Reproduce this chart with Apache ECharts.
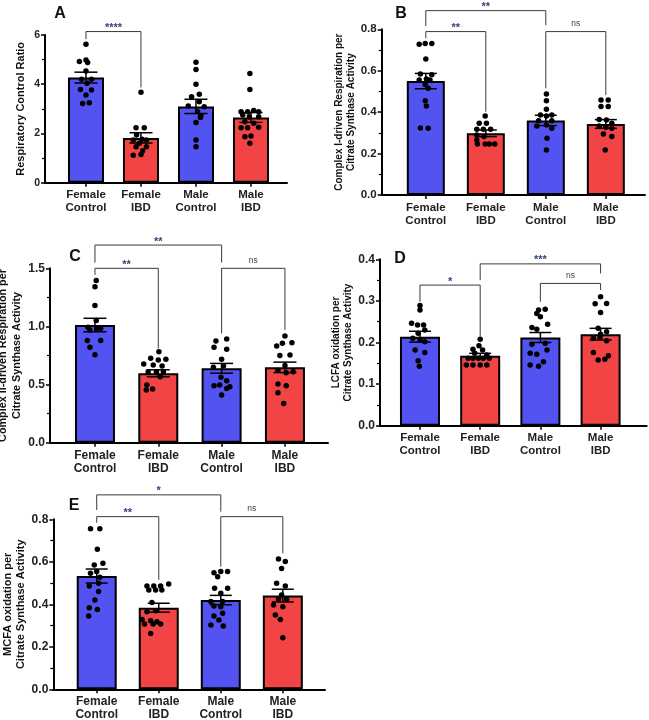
<!DOCTYPE html>
<html>
<head>
<meta charset="utf-8">
<script src="https://cdn.jsdelivr.net/npm/echarts@6/dist/echarts.min.js"></script>
<style>html,body{margin:0;padding:0;background:#fff;}#c{width:649px;height:720px;}</style>
</head>
<body>
<div id="c"></div>
<script>
// ---------- DATA ----------
const categories = ['Female\nControl', 'Female\nIBD', 'Male\nControl', 'Male\nIBD'];

// Panel A: Respiratory Control Ratio
const aMeans = [4.27, 1.82, 3.10, 2.65];
const aSems = [0.22, 0.21, 0.29, 0.20];
const aDots = [
  [5.62, 4.92, 4.98, 4.88, 4.54, 4.2, 4.2, 4.04, 3.79, 3.77, 3.56, 3.22, 3.25],
  [3.67, 2.23, 2.23, 1.94, 1.76, 1.73, 1.73, 1.6, 1.46, 1.46, 1.3, 1.15, 1.12],
  [4.89, 4.6, 4.0, 3.59, 3.49, 3.29, 3.12, 3.09, 2.88, 2.72, 2.65, 2.45, 1.73, 1.46],
  [4.44, 3.79, 2.88, 2.88, 2.93, 2.88, 2.75, 2.68, 2.68, 2.48, 2.41, 2.23, 2.23, 2.25, 1.9, 1.87, 1.6]
];
const aJitter = [
  [0, -0.12, 0, 0.03, 0, -0.08, 0.1, 0.02, -0.1, 0.1, 0, -0.06, 0.06],
  [0, -0.09, 0.06, -0.08, 0.02, -0.14, 0.1, -0.03, -0.09, 0.1, 0.03, 0, -0.14],
  [0, 0, 0, 0.06, -0.08, 0.06, -0.14, 0.15, 0.03, 0.09, 0.08, 0, 0, 0],
  [-0.02, -0.02, -0.18, -0.06, 0.05, 0.14, -0.15, -0.03, 0.14, -0.11, 0.05, -0.18, -0.06, 0.14, 0, -0.11, -0.02]
];
const aBrackets = [[0, 1, 6.14, 5.83, 3.87]];
const aBracketLabels = ['****'];

// Panel B: Complex I-driven respiration
const bMeans = [0.55, 0.298, 0.36, 0.343];
const bSems = [0.037, 0.016, 0.025, 0.021];
const bDots = [
  [0.728, 0.732, 0.732, 0.657, 0.584, 0.58, 0.56, 0.555, 0.555, 0.534, 0.515, 0.455, 0.43, 0.324, 0.322],
  [0.381, 0.346, 0.346, 0.317, 0.317, 0.317, 0.29, 0.282, 0.266, 0.246, 0.246, 0.246, 0.246],
  [0.488, 0.455, 0.414, 0.386, 0.381, 0.386, 0.359, 0.359, 0.338, 0.333, 0.322, 0.274, 0.217],
  [0.459, 0.459, 0.427, 0.427, 0.365, 0.362, 0.346, 0.333, 0.327, 0.322, 0.295, 0.282, 0.217]
];
const bJitter = [
  [-0.11, -0.01, 0.1, 0, -0.09, 0.1, 0.01, 0.07, -0.11, -0.01, 0.04, -0.01, 0.01, -0.09, 0.04],
  [-0.01, -0.11, 0.01, -0.15, -0.04, 0.08, -0.15, -0.03, -0.15, -0.14, -0.01, 0.06, 0.15],
  [0.01, 0.01, 0.01, -0.09, 0.01, 0.1, -0.12, 0.1, 0.01, -0.15, 0.1, 0.02, 0.01],
  [-0.08, 0.04, -0.08, 0.04, -0.11, 0.01, 0.1, -0.11, 0, 0.1, -0.04, 0.1, -0.01]
];
const bBrackets = [[0, 2, 0.89, 0.816, 0.82], [0, 1, 0.789, 0.757, 0.402], [2, 3, 0.789, 0.515, 0.483]];
const bBracketLabels = ['**', '**', 'ns'];

// Panel C: Complex II-driven respiration
const cMeans = [1.012, 0.597, 0.64, 0.648];
const cSems = [0.058, 0.03, 0.042, 0.045];
const cDots = [
  [1.394, 1.342, 1.179, 1.05, 0.992, 0.984, 0.969, 0.984, 0.878, 0.878, 0.82, 0.757],
  [0.783, 0.726, 0.711, 0.717, 0.677, 0.668, 0.66, 0.611, 0.611, 0.611, 0.568, 0.496, 0.453, 0.462],
  [0.892, 0.875, 0.82, 0.803, 0.717, 0.648, 0.66, 0.562, 0.533, 0.49, 0.496, 0.482, 0.467, 0.41],
  [0.918, 0.855, 0.86, 0.832, 0.749, 0.754, 0.663, 0.62, 0.602, 0.611, 0.505, 0.49, 0.43, 0.338]
];
const cJitter = [
  [0.02, 0, 0, 0.02, -0.11, 0.03, -0.08, 0.09, -0.12, 0.09, -0.08, 0],
  [0.01, -0.12, 0, 0.12, -0.23, -0.08, 0.06, -0.16, -0.03, 0.08, 0.03, -0.18, -0.19, -0.09],
  [0.08, -0.09, -0.12, 0.08, 0, -0.13, 0.03, -0.01, 0.08, -0.12, -0.03, 0.13, 0.08, 0],
  [0, -0.04, 0.11, -0.13, -0.08, 0.08, 0, -0.11, 0.02, 0.13, -0.11, 0.02, -0.11, -0.02]
];
const cBrackets = [[0, 2, 1.70, 1.55, 1.55], [0, 1, 1.5, 1.443, 0.81], [2, 3, 1.5, 0.94, 0.97]];
const cBracketLabels = ['**', '**', 'ns'];

// Panel D: LCFA oxidation
const dMeans = [0.214, 0.168, 0.212, 0.22];
const dSems = [0.013, 0.006, 0.012, 0.014];
const dDots = [
  [0.289, 0.278, 0.246, 0.242, 0.242, 0.23, 0.222, 0.21, 0.206, 0.202, 0.182, 0.176, 0.156, 0.143],
  [0.208, 0.192, 0.184, 0.182, 0.174, 0.17, 0.162, 0.162, 0.162, 0.162, 0.162, 0.146, 0.146, 0.146, 0.146],
  [0.278, 0.28, 0.27, 0.262, 0.236, 0.244, 0.232, 0.196, 0.198, 0.182, 0.174, 0.172, 0.154, 0.146, 0.143],
  [0.31, 0.293, 0.294, 0.272, 0.234, 0.226, 0.22, 0.21, 0.212, 0.204, 0.176, 0.168, 0.158, 0.16]
];
const dJitter = [
  [0, 0, -0.14, -0.04, 0.06, 0.08, -0.03, -0.12, 0, 0.08, -0.08, 0.08, -0.03, -0.01],
  [0, -0.02, -0.12, 0.04, -0.09, 0.11, -0.2, -0.12, -0.03, 0.05, 0.15, -0.23, -0.12, 0, 0.11],
  [-0.03, 0.08, -0.06, 0, -0.14, 0.12, -0.06, -0.14, 0.08, 0.11, -0.17, -0.06, 0.05, -0.17, -0.03],
  [0, -0.09, 0.1, 0, -0.04, 0.1, 0, -0.12, -0.01, 0.1, -0.12, 0.13, -0.04, 0.07]
];
const dBrackets = [[0, 1, 0.338, 0.298, 0.214], [1, 3, 0.389, 0.35, 0.366], [2, 3, 0.342, 0.298, 0.326]];
const dBracketLabels = ['*', '***', 'ns'];

// Panel E: MCFA oxidation
const eMeans = [0.533, 0.384, 0.42, 0.441];
const eSems = [0.033, 0.021, 0.022, 0.03];
const eDots = [
  [0.755, 0.755, 0.659, 0.585, 0.593, 0.554, 0.546, 0.527, 0.499, 0.486, 0.46, 0.42, 0.384, 0.376, 0.345],
  [0.496, 0.486, 0.486, 0.486, 0.467, 0.467, 0.467, 0.408, 0.365, 0.37, 0.329, 0.323, 0.318, 0.307, 0.307, 0.307, 0.263],
  [0.549, 0.554, 0.554, 0.53, 0.475, 0.475, 0.452, 0.413, 0.413, 0.392, 0.389, 0.358, 0.345, 0.326, 0.303, 0.298],
  [0.613, 0.601, 0.569, 0.499, 0.486, 0.444, 0.425, 0.424, 0.397, 0.389, 0.35, 0.329, 0.243]
];
const eJitter = [
  [-0.1, 0.05, 0.01, -0.04, 0.1, 0, -0.1, 0.05, 0.03, -0.12, 0.03, -0.03, -0.12, 0.01, -0.13],
  [0.16, -0.19, -0.08, 0.03, -0.16, -0.05, 0.05, -0.11, -0.19, -0.05, -0.27, -0.13, -0.03, -0.23, -0.09, 0.03, -0.13],
  [-0.11, 0, 0.11, -0.05, -0.1, 0.11, 0, -0.16, 0.03, -0.11, 0, 0.03, -0.11, -0.03, -0.16, 0.04],
  [-0.07, 0.04, -0.02, -0.1, 0.04, -0.02, -0.07, 0.06, -0.15, 0, -0.12, -0.04, 0]
];
const eBrackets = [[0, 2, 0.915, 0.844, 0.836], [0, 1, 0.8125, 0.784, 0.515], [2, 3, 0.8125, 0.577, 0.64]];
const eBracketLabels = ['*', '**', 'ns'];

const yTitles = [
  'Respiratory Control Ratio',
  'Complex I-driven Respiration per\nCitrate Synthase Activity',
  'Complex II-driven Respiration per\nCitrate Synthase Activity',
  'LCFA oxidation per\nCitrate Synthase Activity',
  'MCFA oxidation per\nCitrate Synthase Activity'
];
const panelLetters = ['A', 'B', 'C', 'D', 'E'];

// ---------- LAYOUT / STYLE ----------
const FF = 'Liberation Sans, Arial, sans-serif';
const BLUE = '#5353f2';
const RED = '#f24444';
const layouts = [
  {left: 45, top: 35, w: 242, h: 147.7, xmin: -0.745, xmax: 3.655, ymax: 6, yint: 2, dec: 0, barW: 36, cap: 23,
   tickFont: 10.5, catFont: 11.5, nameFont: 11, nameLH: 13, nameGap: 18, letter: [60, 14]},
  {left: 381.7, top: 29.3, w: 263.3, h: 165.7, xmin: -0.735, xmax: 3.653, ymax: 0.8, yint: 0.2, dec: 1, barW: 38, cap: 22,
   tickFont: 11.5, catFont: 11.5, nameFont: 10, nameLH: 12, nameGap: 20, letter: [401, 14]},
  {left: 50, top: 268.3, w: 278, h: 174.4, xmin: -0.71, xmax: 3.68, ymax: 1.5, yint: 0.5, dec: 1, barW: 40, cap: 23,
   tickFont: 12, catFont: 12, nameFont: 10.8, nameLH: 14, nameGap: 17, letter: [75, 257]},
  {left: 380, top: 259.3, w: 266.7, h: 166.4, xmin: -0.664, xmax: 3.766, ymax: 0.4, yint: 0.1, dec: 1, barW: 40, cap: 22,
   tickFont: 12, catFont: 11.5, nameFont: 10, nameLH: 12, nameGap: 20, letter: [400, 259]},
  {left: 53.3, top: 519.3, w: 271.7, h: 170, xmin: -0.7, xmax: 3.68, ymax: 0.8, yint: 0.2, dec: 1, barW: 40, cap: 22,
   tickFont: 12, catFont: 12, nameFont: 11, nameLH: 13, nameGap: 22, letter: [74, 506]}
];

const panelsData = [
  [aMeans, aSems, aDots, aJitter, aBrackets, aBracketLabels],
  [bMeans, bSems, bDots, bJitter, bBrackets, bBracketLabels],
  [cMeans, cSems, cDots, cJitter, cBrackets, cBracketLabels],
  [dMeans, dSems, dDots, dJitter, dBrackets, dBracketLabels],
  [eMeans, eSems, eDots, eJitter, eBrackets, eBracketLabels]
];

const grids = [], xAxes = [], yAxes = [], series = [], graphics = [];
const tickVals = categories.map((_, k) => k);

panelsData.forEach((pd, i) => {
  const [means, sems, dots, jitter, brackets, bLabels] = pd;
  const L = layouts[i];
  grids.push({left: L.left, top: L.top, width: L.w, height: L.h, containLabel: false, outerBoundsMode: 'none'});
  xAxes.push({
    gridIndex: i, type: 'value', min: L.xmin, max: L.xmax,
    splitLine: {show: false},
    axisLine: {show: true, onZero: false, lineStyle: {color: '#000', width: 2}},
    axisTick: {show: true, customValues: tickVals, length: 4, lineStyle: {color: '#000', width: 1.5}},
    axisLabel: {show: true, customValues: tickVals, formatter: v => categories[Math.round(v)] || '',
      fontSize: L.catFont, fontWeight: 'bold', color: '#222', lineHeight: 13, margin: 6, fontFamily: FF}
  });
  yAxes.push({
    gridIndex: i, type: 'value', min: 0, max: L.ymax, interval: L.yint,
    name: yTitles[i], nameLocation: 'middle', nameGap: L.nameGap,
    nameTextStyle: {fontSize: L.nameFont, fontWeight: 'bold', color: '#111', lineHeight: L.nameLH, fontFamily: FF},
    axisLine: {show: true, onZero: false, lineStyle: {color: '#000', width: 2}},
    axisTick: {show: true, length: 4, lineStyle: {color: '#000', width: 1.5}},
    minorTick: {show: true, splitNumber: 2, length: 3, lineStyle: {color: '#000', width: 1.2}},
    splitLine: {show: false}, minorSplitLine: {show: false},
    axisLabel: {formatter: v => v.toFixed(L.dec), fontSize: L.tickFont, fontWeight: 'bold', color: '#222', margin: 5, fontFamily: FF}
  });
  // bars
  series.push({
    type: 'bar', xAxisIndex: i, yAxisIndex: i, barWidth: L.barW, z: 2,
    data: means.map((m, k) => ({value: [k, m], itemStyle: {color: (k % 2 === 0) ? BLUE : RED}})),
    itemStyle: {borderColor: '#000', borderWidth: 2}
  });
  // dots
  const pts = [];
  dots.forEach((arr, k) => arr.forEach((v, j) => pts.push([k + jitter[k][j], v])));
  series.push({
    type: 'scatter', xAxisIndex: i, yAxisIndex: i, symbolSize: 5.5, z: 4,
    itemStyle: {color: '#000', opacity: 1}, data: pts
  });
  // error bars (mean ± SEM)
  series.push({
    type: 'custom', xAxisIndex: i, yAxisIndex: i, z: 5, clip: false,
    data: means.map((m, k) => [k, m, sems[k]]),
    encode: {x: 0, y: 1},
    renderItem: (params, api) => {
      const x = api.value(0), m = api.value(1), s = api.value(2);
      const t = api.coord([x, m + s]), b = api.coord([x, m - s]);
      const hw = L.cap / 2;
      const st = {stroke: '#000', lineWidth: 1.5};
      return {type: 'group', children: [
        {type: 'line', shape: {x1: t[0], y1: t[1], x2: b[0], y2: b[1]}, style: st},
        {type: 'line', shape: {x1: t[0] - hw, y1: t[1], x2: t[0] + hw, y2: t[1]}, style: st},
        {type: 'line', shape: {x1: b[0] - hw, y1: b[1], x2: b[0] + hw, y2: b[1]}, style: st}
      ]};
    }
  });
  // significance brackets
  series.push({
    type: 'custom', xAxisIndex: i, yAxisIndex: i, z: 6, clip: false,
    data: brackets,
    encode: {x: [0, 1], y: [2]},
    renderItem: (params, api) => {
      const x1 = api.value(0), x2 = api.value(1), top = api.value(2), lb = api.value(3), rb = api.value(4);
      const p1 = api.coord([x1, lb]), p2 = api.coord([x1, top]), p3 = api.coord([x2, top]), p4 = api.coord([x2, rb]);
      const lab = bLabels[params.dataIndex];
      const isNs = lab === 'ns';
      return {type: 'group', children: [
        {type: 'polyline', shape: {points: [p1, p2, p3, p4]}, style: {stroke: '#3a3a3a', lineWidth: 1, fill: null}},
        {type: 'text', x: (p2[0] + p3[0]) / 2, y: p2[1] + (isNs ? -3 : 2),
          style: {text: lab, fill: isNs ? '#444' : '#34437a', font: (isNs ? 'normal 8.5px ' : 'bold 11px ') + FF,
            align: 'center', verticalAlign: 'bottom'}}
      ]};
    }
  });
  graphics.push({type: 'text', x: L.letter[0], y: L.letter[1],
    style: {text: panelLetters[i], font: 'bold 16px ' + FF, fill: '#111', align: 'center', verticalAlign: 'middle'}});
});

const chart = echarts.init(document.getElementById('c'), null, {renderer: 'canvas'});
chart.setOption({
  animation: false,
  backgroundColor: '#fff',
  grid: grids, xAxis: xAxes, yAxis: yAxes, series: series, graphic: graphics
});
</script>
</body>
</html>
